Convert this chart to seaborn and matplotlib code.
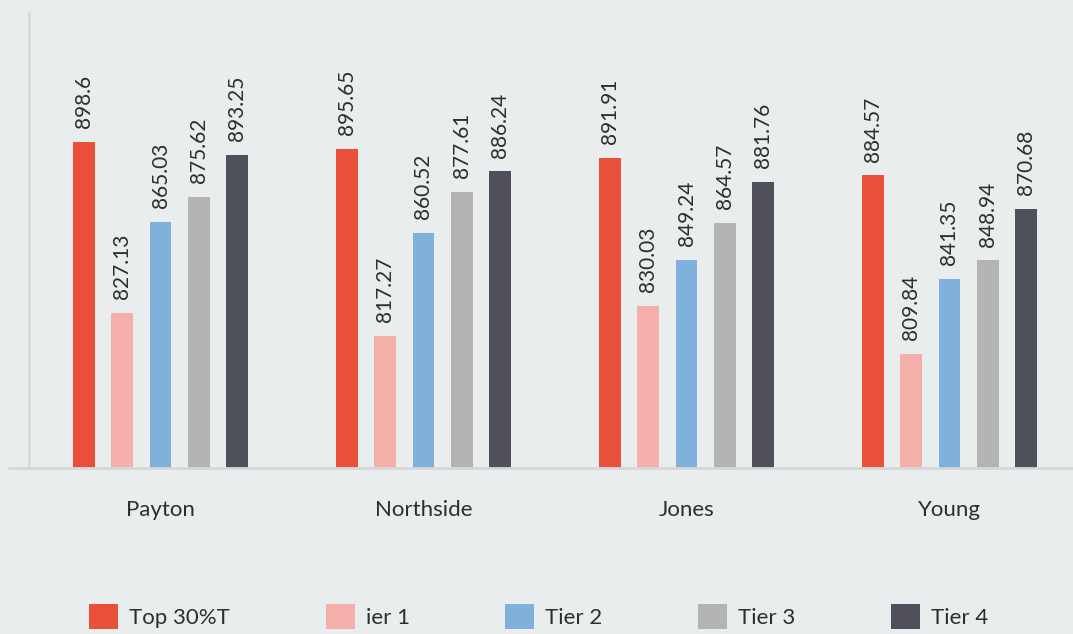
import pandas as pd
import seaborn as sns
import matplotlib.pyplot as plt
from matplotlib.lines import Line2D
from matplotlib.patches import Patch

# Values
schools = ["Payton", "Northside", "Jones", "Young"]
series = ["Top 30%T", "ier 1", "Tier 2", "Tier 3", "Tier 4"]
top30 = [898.6, 895.65, 891.91, 884.57]
tier1 = [827.13, 817.27, 830.03, 809.84]
tier2 = [865.03, 860.52, 849.24, 841.35]
tier3 = [875.62, 877.61, 864.57, 848.94]
tier4 = [893.25, 886.24, 881.76, 870.68]
colors = ["#E8503A", "#F4AFAB", "#80B1DC", "#B4B4B4", "#4F5059"]

rows = []
for name, vals in zip(series, [top30, tier1, tier2, tier3, tier4]):
    for school, v in zip(schools, vals):
        rows.append({"School": school, "Series": name, "Score": v})
df = pd.DataFrame(rows)

bg = "#E9EDED"
txt = "#2E2E2E"
sns.set_style("white")
plt.rcParams["font.family"] = ["Lato", "DejaVu Sans"]

fig = plt.figure(figsize=(10.73, 6.34), dpi=100, facecolor=bg)
ax = fig.add_axes([29 / 1073, 1 - 468 / 634, 1052 / 1073, 455 / 634])
ax.set_facecolor(bg)

sns.barplot(data=df, x="School", y="Score", hue="Series", palette=colors,
            width=0.73, gap=0.43, saturation=1, linewidth=0, legend=False, ax=ax)

for c in ax.containers:
    ax.bar_label(c, labels=[f"{v:g}" for v in c.datavalues], rotation=90,
                 padding=10, fontsize=15, color=txt)

ax.set_ylim(762, 952.6)
ax.set_xlim(-0.5, 3.5)
ax.set_xlabel("")
ax.set_ylabel("")
ax.set_yticks([])
ax.tick_params(axis="x", length=0, pad=23, labelsize=16, labelcolor=txt)
for s in ["top", "right"]:
    ax.spines[s].set_visible(False)
ax.spines["left"].set_color("#D6D8D8")
ax.spines["left"].set_linewidth(1.8)
ax.spines["bottom"].set_color("#D6D8D8")
ax.spines["bottom"].set_linewidth(2)
# baseline also runs a bit left of the axis
fig.add_artist(Line2D([9 / 1073, 30 / 1073], [1 - 468 / 634] * 2,
                      color="#D6D8D8", lw=2, transform=fig.transFigure))

handles = [Patch(facecolor=c, edgecolor="none") for c in colors]
fig.legend(handles, series, loc="center", bbox_to_anchor=(0.502, 0.028),
           ncol=5, frameon=False, fontsize=16, handlelength=1.3, handleheight=1.35,
           handletextpad=0.5, columnspacing=4.3, labelcolor=txt)

plt.savefig("out.png", dpi=100, facecolor=bg)
